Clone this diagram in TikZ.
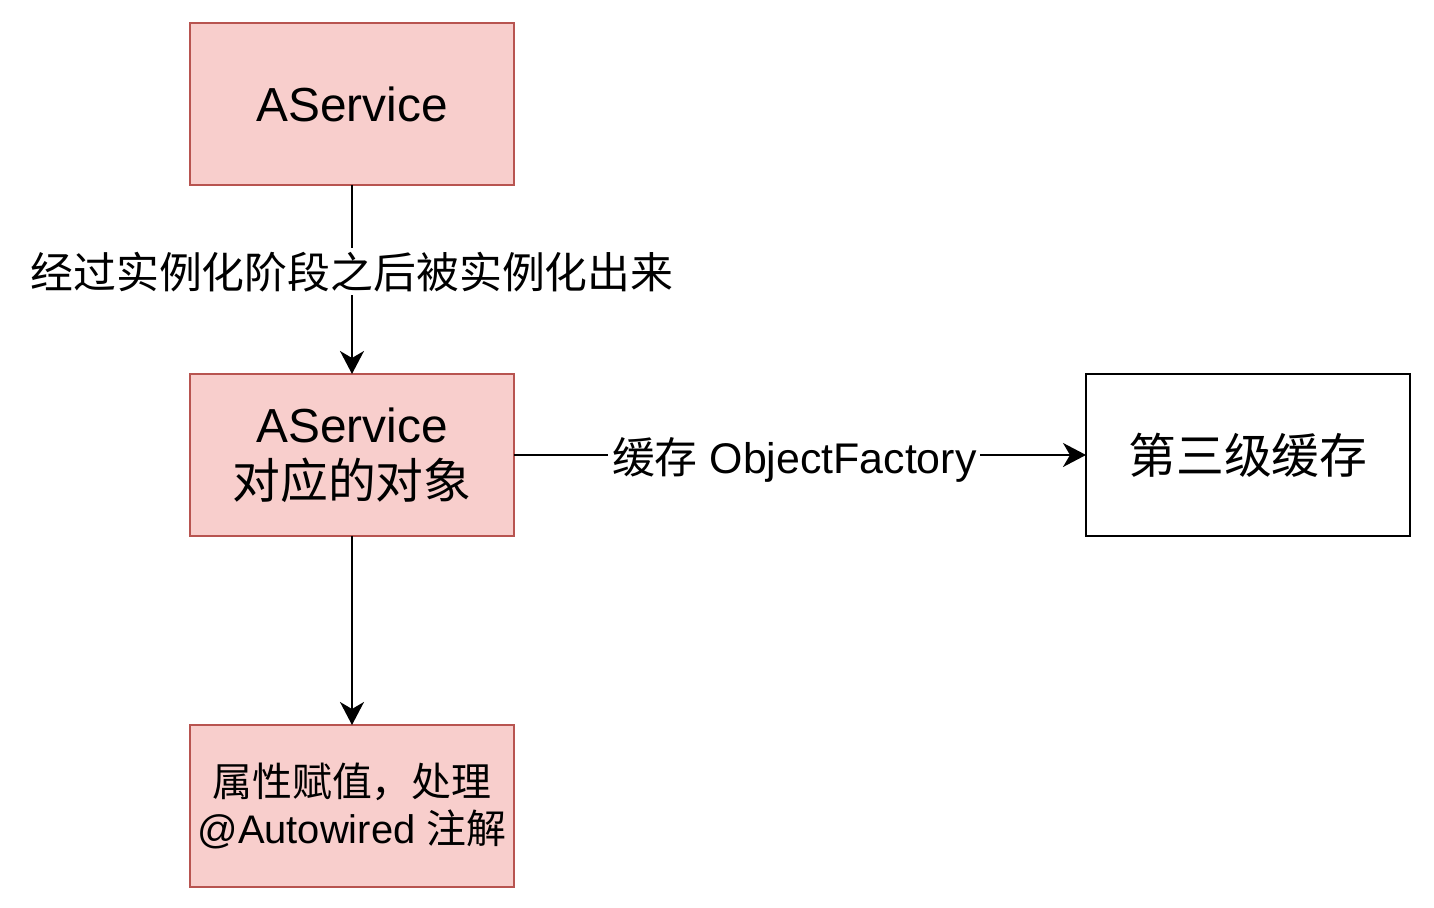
\documentclass[tikz,border=0pt]{standalone}
\usepackage{fontspec}
\setmainfont{Liberation Sans}
\newfontfamily\cjk{Noto Sans CJK SC}
\usetikzlibrary{positioning,arrows.meta}
\definecolor{boxfill}{HTML}{F8CECC}
\definecolor{boxline}{HTML}{B85450}
\tikzset{
  pinkbox/.style={draw=boxline, fill=boxfill, line width=1.1pt,
    minimum width=6.48cm, minimum height=3.24cm, align=center,
    inner sep=0pt, outer sep=0pt},
  whitebox/.style={draw=black, fill=white, line width=1.1pt,
    minimum width=6.48cm, minimum height=3.24cm, align=center,
    inner sep=0pt, outer sep=0pt},
  conn/.style={line width=1.1pt,
    -{Stealth[length=0.46cm, width=0.48cm, inset=0.14cm]}},
  edgelabel/.style={fill=white, inner sep=2pt, font=\fontsize{24.4}{28}\selectfont}
}
\begin{document}
\begin{tikzpicture}
    \useasboundingbox (0,0) rectangle (28.68,18.16);
    % boxes
    \node[pinkbox, font=\fontsize{27.2}{32}\selectfont] (aservice) at (7.04,16.08) {AService};
    \node[pinkbox, below=3.78cm of aservice, font=\fontsize{27.2}{32}\selectfont] (obj)
        {AService\\{\cjk 对应的对象}};
    \node[pinkbox, below=3.78cm of obj, font=\fontsize{22.7}{27}\selectfont] (attr)
        {{\cjk 属性赋值，处理}\\@Autowired {\cjk 注解}};
    \node[whitebox, right=11.44cm of obj, font=\fontsize{27.2}{32}\selectfont] (cache3)
        {\cjk 第三级缓存};
    % connectors
    \draw[conn] (aservice) -- node[edgelabel, pos=0.46]{\cjk 经过实例化阶段之后被实例化出来} (obj);
    \draw[conn] (obj) -- node[edgelabel, pos=0.49, yshift=-0.1cm]{{\cjk 缓存} ObjectFactory} (cache3);
    \draw[conn] (obj) -- (attr);
\end{tikzpicture}
\end{document}
